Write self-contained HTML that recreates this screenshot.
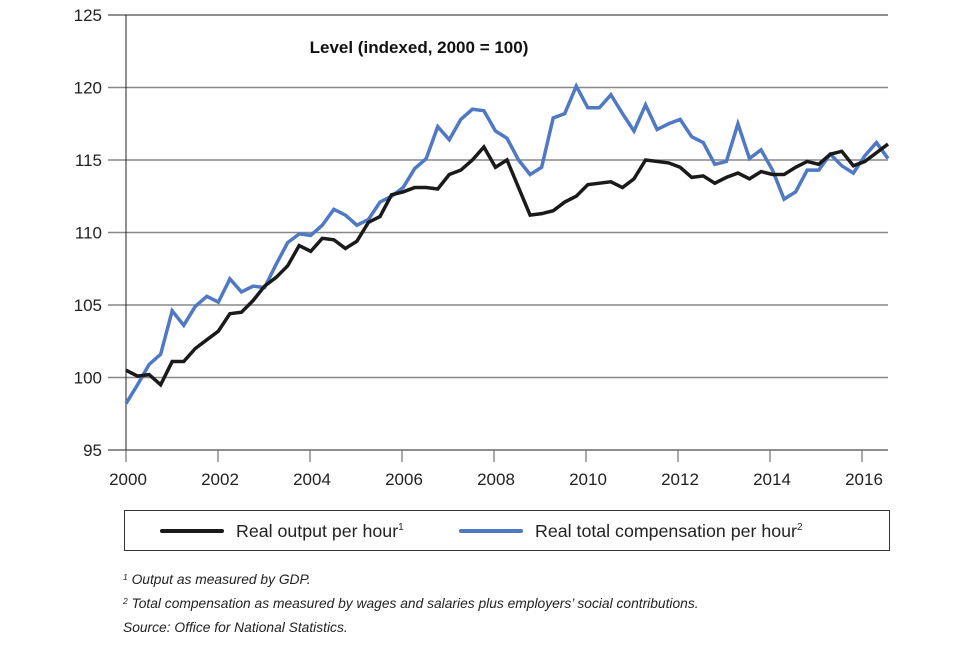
<!DOCTYPE html>
<html><head><meta charset="utf-8"><style>
body{margin:0;background:#fff;font-family:"Liberation Sans",Arial,sans-serif}
svg text{font-family:"Liberation Sans",Arial,sans-serif}
</style></head><body>
<svg id="chart" width="960" height="640" xmlns="http://www.w3.org/2000/svg">
<g id="grid"></g>
<g id="axes"></g>
<text x="419" y="53" text-anchor="middle" font-size="17" font-weight="bold" fill="#111">Level (indexed, 2000 = 100)</text>
<g id="series"></g>
<g>
<rect x="124.5" y="510.5" width="765" height="40" fill="none" stroke="#333" stroke-width="1"/>
<line x1="162" y1="531" x2="222" y2="531" stroke="#1a1a1a" stroke-width="4" stroke-linecap="round"/>
<text x="236" y="537" font-size="17.8" fill="#222">Real output per hour<tspan font-size="10" dy="-7">1</tspan></text>
<line x1="461" y1="531" x2="521" y2="531" stroke="#4f79c4" stroke-width="4" stroke-linecap="round"/>
<text x="535" y="537" font-size="17.8" fill="#222">Real total compensation per hour<tspan font-size="10" dy="-7">2</tspan></text>
</g>
<g font-size="13.8" font-style="italic" fill="#222">
<text x="123" y="584"><tspan font-size="8.5" dy="-4">1</tspan><tspan dy="4"> Output as measured by GDP.</tspan></text>
<text x="123" y="608"><tspan font-size="8.5" dy="-4">2</tspan><tspan dy="4"> Total compensation as measured by wages and salaries plus employers’ social contributions.</tspan></text>
<text x="123" y="632">Source: Office for National Statistics.</text>
</g>
</svg>
<script>
const yTicks=[95,100,105,110,115,120,125];
const xTickLabels=["2000","2002","2004","2006","2008","2010","2012","2014","2016"];
const outputPerHour=[100.5,100.1,100.2,99.5,101.1,101.1,102.0,102.6,103.2,104.4,
104.5,105.3,106.3,106.9,107.7,109.1,108.7,109.6,109.5,108.9,
109.4,110.7,111.1,112.6,112.8,113.1,113.1,113.0,114.0,114.3,
115.0,115.9,114.5,115.0,113.1,111.2,111.3,111.5,112.1,112.5,
113.3,113.4,113.5,113.1,113.7,115.0,114.9,114.8,114.5,113.8,
113.9,113.4,113.8,114.1,113.7,114.2,114.0,114.0,114.5,114.9,
114.7,115.4,115.6,114.6,114.9,115.5,116.1];
const compensationPerHour=[98.2,99.5,100.9,101.6,104.6,103.6,104.9,105.6,105.2,106.8,
105.9,106.3,106.2,107.8,109.3,109.9,109.8,110.5,111.6,111.2,
110.5,110.9,112.1,112.5,113.1,114.4,115.1,117.3,116.4,117.8,
118.5,118.4,117.0,116.5,115.0,114.0,114.5,117.9,118.2,120.1,
118.6,118.6,119.5,118.2,117.0,118.8,117.1,117.5,117.8,116.6,
116.2,114.7,114.9,117.5,115.1,115.7,114.3,112.3,112.8,114.3,
114.3,115.4,114.6,114.1,115.3,116.2,115.1];
const X0=126,X1=888,Y0=450,Y1=15;
const xQ=i=>X0+(X1-X0)*i/66;
const xYear=yr=>X0+(yr-2000)*46;
const y=v=>Y0-(v-95)*(Y0-Y1)/30;
const NS="http://www.w3.org/2000/svg";
function mk(tag,attrs,parent){const e=document.createElementNS(NS,tag);for(const k in attrs)e.setAttribute(k,attrs[k]);parent.appendChild(e);return e;}
const grid=document.getElementById('grid'),axes=document.getElementById('axes'),series=document.getElementById('series');
yTicks.forEach(t=>{
 const yy=y(t);
 const l=mk('line',{x1:108,x2:X1,y1:yy,y2:yy,stroke:(t===125||t===95)?'#222':'#888','stroke-width':(t===95||t===125)?1:1.5},grid);
 
 
 const tx=mk('text',{x:102,y:yy+6,'text-anchor':'end','font-size':17,fill:'#222'},axes);
 tx.textContent=t;
 
 
});
const ax=mk('line',{x1:X0,x2:X0,y1:Y1,y2:Y0,stroke:'#222','stroke-width':1},axes);


xTickLabels.forEach(lbl=>{
 const xx=xYear(+lbl);
 const tk=mk('line',{x1:xx,x2:xx,y1:Y0,y2:Y0+12,stroke:'#555','stroke-width':1},axes);
 
 
 const tx=mk('text',{x:xx+2,y:Y0+35,'text-anchor':'middle','font-size':17,fill:'#222'},axes);
 tx.textContent=lbl;
 
 
});
function line(data,color,name){
 const p=mk('polyline',{points:data.map((v,i)=>xQ(i)+','+y(v)).join(' '),fill:'none',stroke:color,'stroke-width':3.5,'stroke-linejoin':'miter'},series);
 
 
}
line(compensationPerHour,'#4f79c4','compensation-line');
line(outputPerHour,'#1a1a1a','output-line');
</script>
</body></html>
